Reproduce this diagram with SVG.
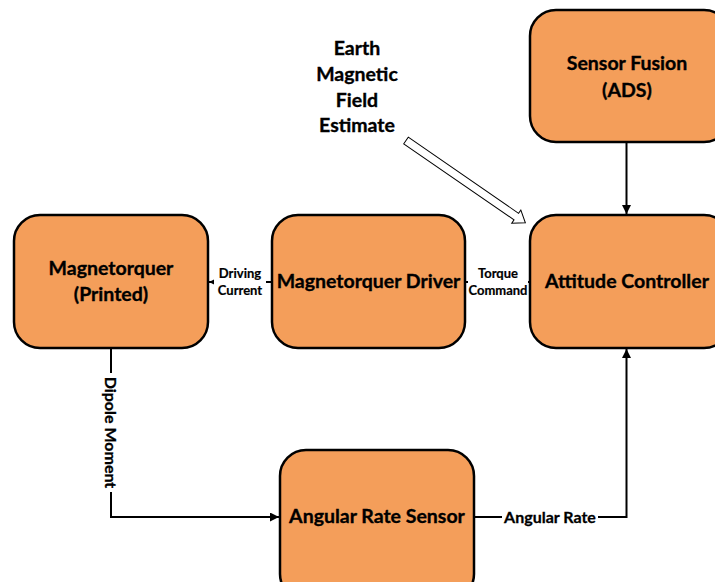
<svg xmlns="http://www.w3.org/2000/svg" width="715" height="582" viewBox="0 0 715 582">
<style>
.box{fill:#F49E5A;stroke:#000;stroke-width:2.5}
.t{font-family:Lato,"Liberation Sans",sans-serif;font-weight:700;font-size:19.5px;fill:#000;stroke:#000;stroke-width:0.35;text-anchor:middle}
.s{font-family:Lato,"Liberation Sans",sans-serif;font-weight:700;font-size:13px;fill:#000;stroke:#000;stroke-width:0.2;text-anchor:middle}
.m{font-family:Lato,"Liberation Sans",sans-serif;font-weight:700;font-size:16px;fill:#000;stroke:#000;stroke-width:0.3;text-anchor:middle}
.c{fill:none;stroke:#000;stroke-width:2}
.bg{fill:#fff}
</style>
<defs>
<marker id="ah" viewBox="0 0 10 10" refX="10" refY="5" markerWidth="4.5" markerHeight="4.5" orient="auto" markerUnits="strokeWidth">
<path d="M0,0 L10,5 L0,10 z" fill="#000"/>
</marker>
</defs>
<rect width="715" height="582" fill="#fff"/>
<g id="connectors">
<line class="c" x1="626.5" y1="142" x2="626.5" y2="214" marker-end="url(#ah)"/>
<polyline class="c" points="474,517 626.5,517 626.5,349" marker-end="url(#ah)"/>
<polyline class="c" points="111,348 111,517 279,517" marker-end="url(#ah)"/>
<line class="c" x1="272" y1="282" x2="209" y2="282" marker-end="url(#ah)"/>
<line class="c" x1="529" y1="282" x2="466" y2="282"/>
<rect class="bg" x="502" y="508" width="96" height="20"/>
<text class="m" x="550" y="522.5">Angular Rate</text>
<rect class="bg" x="102" y="373" width="18" height="119"/>
<text class="m" transform="translate(105,432.5) rotate(90)" x="0" y="0">Dipole Moment</text>
<rect class="bg" x="214" y="264" width="52" height="34"/>
<text class="s" x="240" y="278">Driving</text>
<text class="s" x="240" y="295">Current</text>
<rect class="bg" x="468" y="264" width="60" height="34"/>
<text class="s" x="498" y="278">Torque</text>
<text class="s" x="498" y="295">Command</text>
<polygon points="0,-4 134,-4 134,-8 145,0 134,8 134,4 0,4" fill="#fff" stroke="#000" stroke-width="1" transform="translate(406,140.5) rotate(34.6)"/>
</g>
<g id="sensor-fusion">
<rect class="box" x="530" y="10" width="200" height="132" rx="26"/>
<text class="t" x="627" y="70">Sensor Fusion</text>
<text class="t" x="627" y="97">(ADS)</text>
</g>
<g id="attitude-controller">
<rect class="box" x="530" y="215" width="200" height="133" rx="26"/>
<text class="t" x="627" y="288">Attitude Controller</text>
</g>
<g id="magnetorquer-driver">
<rect class="box" x="272" y="215" width="193" height="133" rx="26"/>
<text class="t" x="368.5" y="288">Magnetorquer Driver</text>
</g>
<g id="magnetorquer">
<rect class="box" x="14" y="215" width="194" height="133" rx="26"/>
<text class="t" x="111" y="275">Magnetorquer</text>
<text class="t" x="111" y="301">(Printed)</text>
</g>
<g id="angular-rate-sensor">
<rect class="box" x="280" y="450" width="194" height="150" rx="26"/>
<text class="t" x="377" y="523">Angular Rate Sensor</text>
</g>
<g id="earth-field-label">
<text class="t" x="357" y="55">Earth</text>
<text class="t" x="357" y="81">Magnetic</text>
<text class="t" x="357" y="107">Field</text>
<text class="t" x="357" y="132">Estimate</text>
</g>
</svg>
